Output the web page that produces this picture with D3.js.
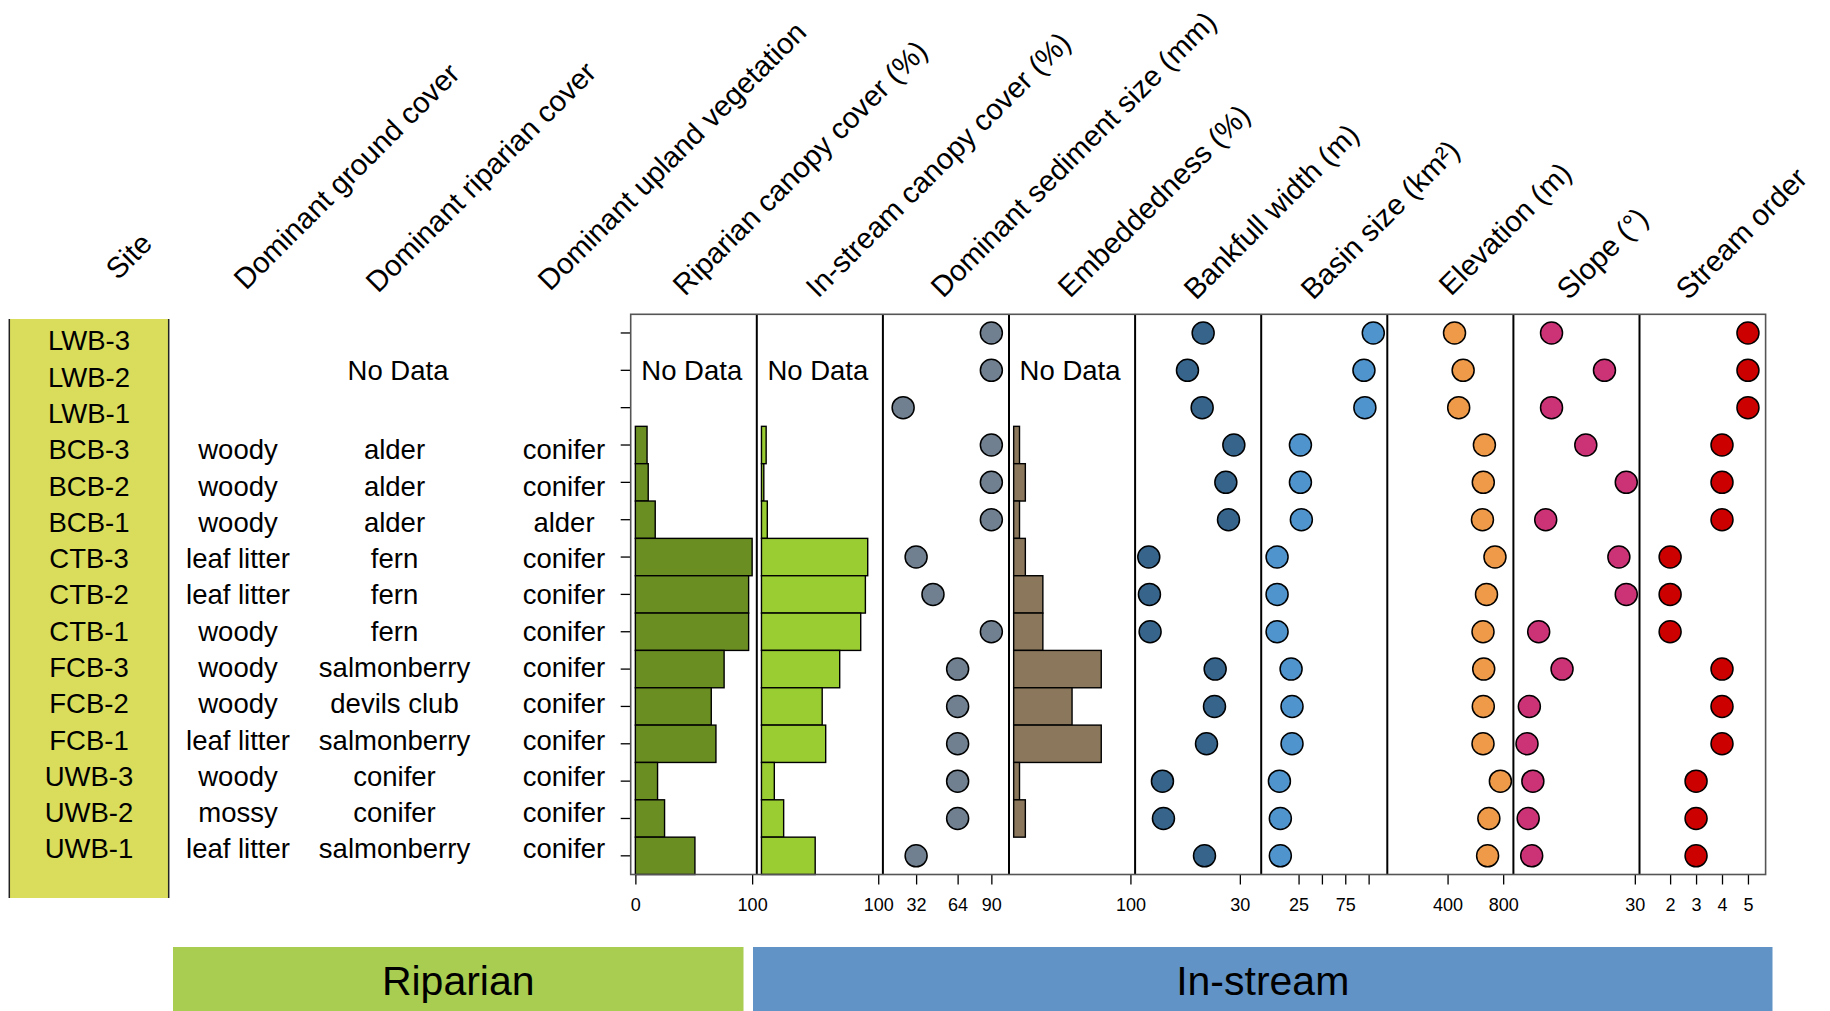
<!DOCTYPE html>
<html lang="en">
<head>
<meta charset="utf-8">
<script src="https://d3js.org/d3.v7.min.js"></script>
<style>
    body { margin: 0; background: #fff; }
    svg { font-family: "Liberation Sans", Arial, Helvetica, sans-serif; }
</style>
</head>
<body>
<div id="chart"></div>
<script>
    // sites, top to bottom
    const sites = ["LWB-3", "LWB-2", "LWB-1", "BCB-3", "BCB-2", "BCB-1", "CTB-3", "CTB-2",
                   "CTB-1", "FCB-3", "FCB-2", "FCB-1", "UWB-3", "UWB-2", "UWB-1"];

    const headers = ["Site", "Dominant ground cover", "Dominant riparian cover", "Dominant upland vegetation",
                     "Riparian canopy cover (%)", "In-stream canopy cover (%)", "Dominant sediment size (mm)",
                     "Embeddedness (%)", "Bankfull width (m)", "Basin size (km\u00B2)", "Elevation (m)",
                     "Slope (\u00B0)", "Stream order"];

    // categorical columns (null = no data)
    const groundCover = [null, null, null, "woody", "woody", "woody", "leaf litter", "leaf litter",
                         "woody", "woody", "woody", "leaf litter", "woody", "mossy", "leaf litter"];
    const riparianCover = [null, null, null, "alder", "alder", "alder", "fern", "fern",
                           "fern", "salmonberry", "devils club", "salmonberry", "conifer", "conifer", "salmonberry"];
    const uplandVeg = [null, null, null, "conifer", "conifer", "alder", "conifer", "conifer",
                       "conifer", "conifer", "conifer", "conifer", "conifer", "conifer", "conifer"];

    // numeric columns
    const riparianCanopy = [null, null, null, 10, 11, 17, 100, 97, 97, 76, 65, 69, 19, 25, 51];
    const instreamCanopy = [null, null, null, 4, 2, 5, 91, 89, 85, 67, 52, 55, 11, 19, 46];
    const sediment = [90, 90, 22, 90, 90, 90, 32, 45, 90, 64, 64, 64, 64, 64, 32];
    const embeddedness = [null, null, null, 5, 10, 5, 10, 25, 25, 75, 50, 75, 5, 10, 0];
    const bankfull = [19, 14.3, 18.7, 28.2, 25.8, 26.6, 2.7, 2.9, 3.1, 22.6, 22.4, 20, 6.8, 7.1, 19.4];
    const basinSize = [105, 95, 96, 27, 27, 28, 2, 2, 2, 17, 18, 18, 4.5, 5.5, 5.5];
    const elevation = [450, 512, 480, 665, 657, 651, 741, 680, 655, 660, 657, 655, 780, 697, 688];
    const slope = [8.6, 22.2, 8.6, 17.4, 27.8, 7.1, 25.9, 27.8, 5.3, 11.3, 2.9, 2.3, 3.8, 2.6, 3.5];
    const streamOrder = [5, 5, 5, 4, 4, 4, 2, 2, 2, 4, 4, 4, 3, 3, 3];

    // bottom tick values / labels
    const ripTicks = [0, 100], inTicks = [100], sedTicks = [32, 64, 90], embTicks = [100],
          bankTicks = [30], basinTicks = [25, 50, 75, 100], basinTickLabels = ["25", "", "75", ""],
          elevTicks = [400, 800], slopeTicks = [30], orderTicks = [2, 3, 4, 5];

    const groups = ["Riparian", "In-stream"];

    // ---- layout ----
    var width = 1830, height = 1011;
    var boxTop = 314.3, boxBottom = 874.5, boxLeft = 630.7, boxRight = 1765.6;
    var fs = 27.5;
    var colX = [89, 238, 394.5, 564];
    var headerX = [118, 246, 378, 550, 685, 818, 943, 1070, 1196, 1313, 1451, 1569, 1688],
        headerY = [281, 291, 294, 292, 297, 299, 299, 299, 301, 301, 297, 301, 301];

    var panels = [
        {type: "bar", values: riparianCanopy, domain: [0, 100], ticks: ripTicks, fill: "#6b8e23"},
        {type: "bar", values: instreamCanopy, domain: [0, 100], ticks: inTicks, fill: "#9acd32"},
        {type: "dot", values: sediment, domain: [10, 100], ticks: sedTicks, fill: "#708090"},
        {type: "bar", values: embeddedness, domain: [0, 100], ticks: embTicks, fill: "#8b785c"},
        {type: "dot", values: bankfull, domain: [0, 35], ticks: bankTicks, fill: "#36648b"},
        {type: "dot", values: basinSize, domain: [-10, 115], ticks: basinTicks, labels: basinTickLabels, fill: "#4f94cd"},
        {type: "dot", values: elevation, domain: [0, 840], ticks: elevTicks, fill: "#ee9a49"},
        {type: "dot", values: slope, domain: [0, 30], ticks: slopeTicks, fill: "#cc3377"},
        {type: "dot", values: streamOrder, domain: [1, 5.5], ticks: orderTicks, fill: "#cd0000"}
    ];

    // R style 4% padding of the axis range
    const pad = d => { var w = d[1] - d[0]; return [d[0] - 0.04 * w, d[1] + 0.04 * w]; };

    var svg = d3.select("#chart")
                .append("svg")
                .attr("width", width)
                .attr("height", height);

    var y = d3.scaleBand().domain(sites).range([boxTop, boxBottom]).padding(0);
    // the table text rows sit on a slightly tighter grid than the panels
    var yText = d3.scalePoint().domain(sites).range([340.5, 848.5]);
    var panelX = d3.scaleBand().domain(d3.range(panels.length)).range([boxLeft, boxRight]);

    // ---- site column box ----
    svg.append("rect")
        .attr("x", 9.3).attr("y", 319).attr("width", 159.4).attr("height", 579)
        .attr("fill", "#dadd5c");
    svg.selectAll(".siteEdge")
        .data([9.3, 168.7])
        .enter().append("line")
        .attr("x1", d => d).attr("x2", d => d)
        .attr("y1", 319).attr("y2", 898)
        .attr("stroke", "#222").attr("stroke-width", 1.5);

    // ---- headers ----
    svg.selectAll(".header")
        .data(headers)
        .enter().append("text")
        .attr("transform", (d, i) => "translate(" + headerX[i] + "," + headerY[i] + ") rotate(-45)")
        .attr("font-size", 29.3)
        .text(d => d);

    // ---- table text ----
    var tableCols = [sites, groundCover, riparianCover, uplandVeg];
    tableCols.forEach(function(col, c) {
        svg.selectAll(".col" + c)
            .data(col.map((v, i) => ({v: v, site: sites[i]})).filter(d => d.v !== null))
            .enter().append("text")
            .attr("x", colX[c])
            .attr("y", d => yText(d.site) + fs * 0.36)
            .attr("text-anchor", "middle")
            .attr("font-size", fs)
            .text(d => d.v);
    });
    svg.append("text")
        .attr("x", 398).attr("y", y("LWB-2") + y.bandwidth() / 2 + fs * 0.36)
        .attr("text-anchor", "middle").attr("font-size", fs)
        .text("No Data");

    // ---- panels ----
    panels.forEach(function(p, i) {
        var x0 = panelX(i), x1 = x0 + panelX.bandwidth();
        var xs = d3.scaleLinear().domain(pad(p.domain)).range([x0, x1]);
        var rows = p.values.map((v, k) => ({v: v, site: sites[k]})).filter(d => d.v !== null);
        var g = svg.append("g").attr("class", "panel" + i);

        if (p.type === "bar") {
            g.selectAll("rect")
                .data(rows)
                .enter().append("rect")
                .attr("x", xs(0))
                .attr("y", d => y(d.site))
                .attr("width", d => xs(d.v) - xs(0))
                .attr("height", y.bandwidth())
                .attr("fill", p.fill)
                .attr("stroke", "#000")
                .attr("stroke-width", 1.4);
        }
        if (p.values.slice(0, 3).every(v => v === null)) {
            g.append("text")
                .attr("x", (x0 + x1) / 2 - 2)
                .attr("y", y("LWB-2") + y.bandwidth() / 2 + fs * 0.36)
                .attr("text-anchor", "middle").attr("font-size", fs)
                .text("No Data");
        }

        // bottom axis
        var axis = d3.axisBottom(xs)
                    .tickValues(p.ticks)
                    .tickSize(10)
                    .tickPadding(14)
                    .tickFormat((d, k) => p.labels ? p.labels[k] : d);
        var ax = svg.append("g")
                    .attr("transform", "translate(0," + boxBottom + ")")
                    .call(axis);
        ax.select(".domain").remove();
        ax.selectAll("line").attr("stroke", "#000").attr("stroke-width", 1.3);
        ax.selectAll("text").attr("font-size", 18).attr("fill", "#000")
            .attr("font-family", "Liberation Sans, Arial, sans-serif");
        p.xs = xs;
    });

    // left ticks at each row
    var yAx = svg.append("g")
                .attr("transform", "translate(" + boxLeft + ",0)")
                .call(d3.axisLeft(y).tickSize(10).tickFormat(""));
    yAx.select(".domain").remove();
    yAx.selectAll("line").attr("stroke", "#000").attr("stroke-width", 1.3);

    // panel dividers and frame
    svg.selectAll(".divider")
        .data(d3.range(1, panels.length))
        .enter().append("line")
        .attr("x1", d => panelX(d)).attr("x2", d => panelX(d))
        .attr("y1", boxTop).attr("y2", boxBottom)
        .attr("stroke", "#000").attr("stroke-width", 2);
    svg.append("rect")
        .attr("x", boxLeft).attr("y", boxTop)
        .attr("width", boxRight - boxLeft).attr("height", boxBottom - boxTop)
        .attr("fill", "none").attr("stroke", "#555").attr("stroke-width", 1.6);

    // dots on top
    panels.forEach(function(p, i) {
        if (p.type !== "dot") return;
        svg.append("g").selectAll("circle")
            .data(p.values.map((v, k) => ({v: v, site: sites[k]})))
            .enter().append("circle")
            .attr("cx", d => p.xs(d.v))
            .attr("cy", d => y(d.site) + y.bandwidth() / 2)
            .attr("r", 11)
            .attr("fill", p.fill)
            .attr("stroke", "#000")
            .attr("stroke-width", 1.5);
    });

    // ---- group banners ----
    var bannerX = d3.scaleOrdinal().domain(groups).range([[173, 743.5], [753, 1772.5]]);
    var bannerFill = d3.scaleOrdinal().domain(groups).range(["#a8cd51", "#6293c7"]);
    svg.selectAll(".banner")
        .data(groups)
        .enter().append("rect")
        .attr("x", d => bannerX(d)[0])
        .attr("y", 947)
        .attr("width", d => bannerX(d)[1] - bannerX(d)[0])
        .attr("height", height - 947)
        .attr("fill", d => bannerFill(d));
    svg.selectAll(".bannerText")
        .data(groups)
        .enter().append("text")
        .attr("x", d => (bannerX(d)[0] + bannerX(d)[1]) / 2)
        .attr("y", 995)
        .attr("text-anchor", "middle")
        .attr("font-size", 41)
        .text(d => d);
</script>
</body>
</html>
